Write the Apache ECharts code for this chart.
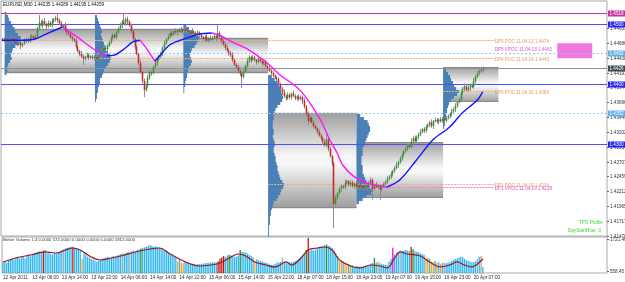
<!DOCTYPE html>
<html><head><meta charset="utf-8">
<script src="https://cdn.jsdelivr.net/npm/echarts@6/dist/echarts.min.js"></script>
<style>html,body{margin:0;padding:0;background:#fff}#c{width:625px;height:282px}</style>
</head><body><div id="c"></div>
<script>
// ---------------- DATA ----------------
const symbolTitle = 'EURUSD,M30 1.44235 1.44289 1.44195 1.44259';
const volumeTitle = 'Better Volume 1.4 0.0000 572.0000 0.0000 0.0000 0.0000 1812.0000';
const timeLabels = ['12 Apr 2011','13 Apr 06:00','13 Apr 14:00','13 Apr 22:00','14 Apr 06:00','14 Apr 14:00','14 Apr 22:00','15 Apr 06:00','15 Apr 14:00','15 Apr 22:00','18 Apr 07:00','18 Apr 15:00','18 Apr 23:00','19 Apr 07:00','19 Apr 15:00','19 Apr 23:00','20 Apr 07:00'];
const LABEL_STEP = 16;       // one time label every 16 M30 bars
const N_SLOTS = 329;         // bar slots across the window (incl. empty future)
const PRICE_BASE = 1.41;     // prices below are pips above 1.4100
const firstOpen = 373;
const closePips = [
374,376,372,370,373,376,371,368,366,370,
364,367,372,375,371,378,380,376,379,392,
402,398,405,400,396,402,398,404,407,410,
406,401,395,398,390,386,383,378,375,372,
362,355,350,346,342,345,348,344,346,343,
345,341,347,350,355,360,358,364,370,376,
382,378,386,392,398,404,400,408,404,398,
388,375,362,350,335,320,305,290,296,310,
320,318,328,335,340,346,350,360,368,375,
380,385,382,388,386,390,387,391,388,392,
389,387,384,388,385,383,386,382,378,375,
379,372,376,374,377,380,376,385,378,372,
366,360,356,352,348,340,332,328,322,318,
312,320,330,338,345,340,344,340,336,342,
338,334,337,330,326,322,318,314,310,308,
300,292,286,280,276,282,278,284,280,276,
279,275,278,272,262,250,238,244,236,230,
226,220,214,210,204,198,208,192,180,168,
100,110,118,125,130,128,135,138,132,136,
130,134,128,132,127,131,126,130,128,135,
140,125,132,128,130,124,129,133,137,142,
145,150,155,160,165,170,176,182,188,192,
198,195,204,210,205,212,216,220,225,222,
228,232,236,230,238,240,237,241,238,242,
239,243,246,250,254,258,264,270,274,285,
292,296,290,294,298,295,305,312,318,322,
323.5,325.9];
const wickUp = [
3,2,4,2,3,5,2,3,2,4, 3,2,4,3,2,5,3,2,4,3, 13,4,3,5,2,4,3,5,3,4, 8,3,4,2,5,3,2,4,3,2,
4,3,2,5,3,2,4,3,2,3, 3,4,2,3,5,2,4,3,2,4, 3,2,5,3,4,3,14,3,4,2, 3,4,2,3,2,5,3,4,3,5,
4,3,2,5,3,2,4,3,5,2, 3,4,2,3,5,2,3,4,2,3, 4,2,3,5,2,3,4,2,3,2, 3,4,2,5,3,4,2,13,3,4,
2,3,4,2,3,5,2,3,4,2, 3,4,2,5,3,2,4,3,2,4, 3,2,4,3,2,5,3,4,2,3, 4,2,3,5,2,4,3,2,5,3,
2,4,3,2,5,3,4,2,3,4, 3,2,4,3,2,5,8,3,4,2, 3,5,2,4,3,2,5,3,2,4, 3,2,4,3,5,2,3,4,2,3,
4,3,2,5,3,2,4,3,2,5, 3,4,2,3,5,2,4,3,2,4, 3,2,5,3,4,2,3,5,2,3, 4,2,3,5,2,4,3,2,4,3,
2,4,3,2,5,3,4,2,3,4, 3,5,2,4,3,2,5,3,4,3, 3,3];
const wickDn = [
2,4,3,2,5,3,4,2,3,2, 6,3,2,4,3,2,5,3,2,4, 3,2,5,3,4,2,3,4,2,3, 4,3,2,4,3,5,2,3,4,3,
3,2,4,3,10,3,2,4,3,2, 4,3,2,3,4,2,3,5,2,3, 2,3,4,2,3,5,2,3,4,3, 4,3,5,2,4,3,4,12,3,2,
3,4,2,3,5,2,3,4,2,3, 2,3,4,2,3,5,3,2,4,3, 3,4,2,3,2,4,3,5,2,3, 4,2,3,4,2,3,5,2,3,4,
3,4,2,5,3,4,2,3,5,4, 19,3,2,4,3,5,2,3,4,2, 3,4,2,3,5,2,4,3,2,4, 3,2,5,3,4,2,3,4,2,3,
4,3,2,5,3,4,6,3,2,4, 3,4,2,3,5,2,3,4,3,5, 40,4,3,2,5,3,4,2,3,4, 3,5,2,4,3,2,4,3,5,2,
3,18,3,2,4,17,3,2,4,3, 2,3,4,3,2,5,3,4,2,3, 4,3,2,5,3,2,4,3,2,4, 3,2,4,3,5,2,3,4,2,3,
4,3,2,3,4,2,5,3,2,4, 3,4,2,3,5,2,3,4,2,3, 3,4];
// moving average (pips above 1.41), read at [bar, value]
const maPoints = [[0,373],[10,373],[18,375],[23,382],[29,390],[33,395],[41,378],[48,362],[53,352],[57,347],[61,348],[67,360],[71,370],[75,373],[79,357],[83,338],[86,348],[91,365],[97,373],[102,378],[107,383],[114,385],[119,380],[125,370],[134,357],[144,335],[151,315],[160,295],[165,278],[173,240],[178,207],[182,185],[185,165],[191,146],[198,135],[209,128],[216,140],[225,173],[234,207],[243,228],[250,252],[258,273],[261,287]];
// Better Volume
const volume = [
880,920,860,950,990,1020,960,1050,1080,1000, 1060,1100,1020,1120,1180,1090,1150,1200,1230,1260,
1280,1250,1300,1320,1200,1260,1180,1150,1220,1190, 1250,1290,1320,1360,1380,1400,1420,1440,1420,1400,
1380,1350,1300,1000,1200,1150,1080,1050,1000,980, 940,900,920,960,1000,1020,1050,1080,1040,1060,
1100,1080,1120,1150,1180,1200,1160,1220,1250,1240, 1280,1300,1260,1320,1340,1380,1400,1420,1450,1480,
1500,1470,1440,1460,1420,1400,1380,1340,1300,1260, 1220,1180,1150,1100,1060,900,980,860,850,900,
880,860,840,820,800,790,810,800,820,830, 840,850,860,870,880,870,880,900,1000,1050,
1100,1060,1120,1150,1130,1100,1060,1080,1120,1320, 1260,1250,1230,1200,1150,1100,1050,920,980,950,
920,900,880,860,840,800,780,790,820,860, 880,900,1040,900,880,860,870,880,900,920,
950,1000,1050,1120,1200,1320,1757,1300,1320,1300, 1340,1380,1420,1450,1480,1500,1520,1480,1450,1400,
1300,1200,1100,900,950,900,820,760,800,740, 780,700,740,730,720,710,730,750,770,790,
820,850,1030,870,900,840,820,800,790,780, 900,1000,1400,1150,1200,1250,1300,1280,1300,1320,
1300,1290,1430,1350,1280,1260,1240,1200,1180,1150, 960,1050,1000,900,880,920,860,880,820,860,
850,840,860,880,920,960,1000,1020,1050,1080, 1060,1000,960,920,900,880,890,920,1000,1080,
1100,700];
const volumeKind = {22:'climax',33:'churn',38:'climax',43:'low',65:'churn',69:'churn',75:'churnHi',95:'low',97:'low',98:'low',117:'climax',118:'climax',119:'climax',120:'climax',123:'churnHi',129:'churnHi',137:'low',152:'churn',165:'churnHi',166:'climax',176:'churnHi',183:'low',184:'low',186:'low',187:'low',189:'low',202:'churnHi',204:'churn',212:'climaxChurn',216:'churn',222:'climax',223:'churnHi',230:'low',231:'low',233:'low',234:'low',236:'low',238:'low',240:'churn',258:'churn',260:'churn'};
const volumeAvg = [[0,887],[7,1032],[15,1141],[23,1250],[29,1213],[34,1322],[38,1395],[42,1322],[48,1068],[53,959],[59,1032],[64,1104],[72,1250],[80,1358],[85,1395],[91,1177],[97,959],[102,814],[107,741],[113,777],[118,850],[124,1068],[128,1177],[132,1104],[137,887],[143,777],[148,705],[154,887],[157,777],[162,1032],[166,1322],[171,1395],[175,1431],[179,1322],[183,959],[189,741],[194,669],[200,777],[205,741],[209,669],[213,1032],[216,1250],[220,1177],[227,1104],[232,887],[238,705],[243,777],[247,887],[251,777],[255,705],[258,814],[261,995]];
const volumeTicks = [1721.46, 558.45];
// daily TPO profiles: first bar of day, top level (pips), TPO counts per 5-pip level
const profileStart = [2, 51, 99, 145, 193, 240];
const profileTop = [420, 415, 400, 315, 250, 325];
const profileCounts = [
 [2,4,5,7,9,11,12,15,18,17,16,12,9,8,7,8,6,4,3,3,2],
 [2,3,4,5,6,7,6,7,8,9,10,11,13,15,16,15,13,11,9,8,7,5,5,4,3,3,2,2,1],
 [3,6,10,14,17,16,14,12,9,8,7,8,9,8,6,5,4,4,3,2,2,1,1],
 [4,7,10,12,13,14,15,16,15,13,10,8,7,6,6,5,5,5,6,6,5,6,7,7,6,6,7,8,8,9,10,10,11,12,13,15,17,16,14,13,11,9,6,5,4,3,3,2,2,2,1,1,1,1],
 [3,6,9,10,11,11,10,9,8,7,6,5,5,5,4,4,4,5,5,5,6,7,8,9,11,13,12,8,5,2],
 [3,5,7,8,10,11,13,16,14,11,8,6,5,4,4,3,3,2,2,1]];
// value areas: [first bar, end bar, top pips, bottom pips]
const valueAreas = [[2,51,392,318],[51,99,392,318],[99,145,377,318],[145,193,252,93],[193,240,203,110],[240,270,328,270]];
// horizontal levels across the window
const fullLevels = [1.45183, 1.4500, 1.4452, 1.44259, 1.4400, 1.4352, 1.4300];
const fullLevelKind = ['high','round','band','bid','round','band','round'];
const fullLevelTag = ['1.4518','1.4500','1.4452','1.4426','1.4400','1.4352','1.4300'];
// POC / VPOC notes
const noteText = ['DP5 POC 11.04.13 1.4474','DP5 VPOC 11.04.13 1.4460','DP4 POC 11.04.14 1.4443','DP0 POC 11.04.20 1.4389','DP1 POC 11.04.19 1.4234','DP1 VPOC 11.04.19 1.4228'];
const notePrice = [1.4474, 1.4460, 1.4443, 1.4389, 1.4234, 1.4228];
const noteFrom = [2, -1, 51, 240, 145, 193];
const noteKind = ['poc','vpoc','poc','poc','poc','vpoc'];
const noteEnd = 268;
const vpocZone = {from: 302, to: 321, top: 1.4468, bottom: 1.4443};
const priceTicks = [1.44933,1.44686,1.44438,1.44191,1.43944,1.43696,1.43449,1.43202,1.42954,1.42707,1.42459,1.42212,1.41965,1.41717,1.41470];

// ---------------- STYLE ----------------
const FONT = 'Liberation Sans';
const FS = 4.6;
const LEVEL_STYLE = {
  high: {color:'#d4309c', dash:null, tag:'#c4339a'},
  round:{color:'#4f4ff5', dash:null, tag:'#2424ee'},
  band: {color:'#98c8ee', dash:[2,2], tag:'#62b0e6'},
  bid:  {color:'#8d9498', dash:null, tag:'#3d4a52'},
  poc:  {color:'#f2b07c', dash:[2,1]},
  vpoc: {color:'#f27ae2', dash:[2,1]}
};
const VOL_COLOR = {normal:'#2db7f0', low:'#f7a52b', churn:'#a9a9a9', climax:'#cc1111', churnHi:'#2b8a2b', climaxChurn:'#ff00ff'};
const P = q => PRICE_BASE + q / 10000;

// ---------------- BUILD ----------------
const cats = Array.from({length: N_SLOTS}, (_, i) => String(i));
const candles = closePips.map((c, i) => {
  const o = i === 0 ? firstOpen : closePips[i - 1];
  const h = Math.max(o, c) + wickUp[i], l = Math.min(o, c) - wickDn[i];
  return [i, P(o), P(c), P(l), P(h)];
});
const lastClose = P(closePips[closePips.length - 1]);
fullLevels[3] = +lastClose.toFixed(5);

const maSegs = [];
for (let k = 1; k < maPoints.length; k++) {
  const up = maPoints[k][1] >= maPoints[k - 1][1];
  let cur = maSegs[maSegs.length - 1];
  if (!cur || cur.up !== up) { cur = {up, pts: [maPoints[k - 1]]}; maSegs.push(cur); }
  cur.pts.push(maPoints[k]);
}

const profileData = [];
profileCounts.forEach((arr, d) => {
  const mx = Math.max(...arr);
  arr.forEach((c, k) => profileData.push([profileStart[d], P(profileTop[d] - 5 * k), P(profileTop[d] - 5 * (k + 1)), c / mx]));
});

const kinds = Object.keys(LEVEL_STYLE);
const levelData = fullLevels.map((p, k) => [-1, -1, p, kinds.indexOf(fullLevelKind[k]), k]);
const noteLineData = notePrice.map((p, k) => [noteFrom[k], noteEnd, p, kinds.indexOf(noteKind[k]), k]).filter(d => d[0] >= 0);

const chart = echarts.init(document.getElementById('c'), null, {renderer: 'canvas'});
const slotLeft = (api, idx) => api.coord([idx, 1.43])[0] - api.size([1, 0])[0] / 2;

const option = {
  animation: false,
  backgroundColor: '#ffffff',
  grid: [
    {left: 1, right: 18, top: 1, height: 235, show: true, borderColor: '#a3a8ab', borderWidth: 1, backgroundColor: '#ffffff'},
    {left: 1, right: 18, top: 237, height: 36, show: true, borderColor: '#a3a8ab', borderWidth: 1, backgroundColor: '#ffffff'}
  ],
  xAxis: [
    {type: 'category', gridIndex: 0, data: cats, boundaryGap: true, show: false},
    {type: 'category', gridIndex: 1, data: cats, boundaryGap: true,
     axisLine: {show: false}, axisTick: {show: false}, splitLine: {show: false},
     axisLabel: {show: true, interval: (idx) => idx % LABEL_STEP === 0, margin: 2, align: 'left',
       formatter: (v, idx) => (idx % LABEL_STEP === 0 && timeLabels[idx / LABEL_STEP]) || '',
       fontSize: FS, fontFamily: FONT, color: '#2a2a2a'}}
  ],
  yAxis: [
    {type: 'value', gridIndex: 0, min: 1.41467, max: 1.45383, position: 'right', show: false, scale: true},
    {type: 'value', gridIndex: 1, min: 486, max: 1794, position: 'right', show: false}
  ],
  graphic: [
    {type: 'text', left: 3, top: 2, z: 100, style: {text: symbolTitle, fontSize: FS, fontFamily: FONT, fill: '#111'}},
    {type: 'text', left: 3, top: 238, z: 100, style: {text: volumeTitle, fontSize: 4.3, fontFamily: FONT, fill: '#333'}},
    {type: 'text', left: 579, top: 220, z: 100, style: {text: 'TPO Profile', fontSize: FS, fontFamily: FONT, fill: '#3ad23a'}},
    {type: 'text', left: 568, top: 228, z: 100, style: {text: 'DayStartHour: 0', fontSize: FS, fontFamily: FONT, fill: '#3ad23a'}}
  ],
  series: [
    // value-area boxes
    {type: 'custom', xAxisIndex: 0, yAxisIndex: 0, z: 1, silent: true, data: valueAreas.map(v => [v[0], v[1], P(v[2]), P(v[3])]),
     renderItem: (params, api) => {
       const x1 = slotLeft(api, api.value(0)), x2 = slotLeft(api, api.value(1));
       const y1 = api.coord([0, api.value(2)])[1], y2 = api.coord([0, api.value(3)])[1];
       return {type: 'group', children: [
         {type: 'rect', shape: {x: x1, y: y1, width: x2 - x1, height: y2 - y1},
          style: {fill: {type: 'linear', x: 0, y: 0, x2: 0, y2: 1, colorStops: [
            {offset: 0, color: '#9e9e9e'}, {offset: 0.45, color: '#f6f6f6'}, {offset: 0.55, color: '#f6f6f6'}, {offset: 1, color: '#9c9c9c'}]}}},
         {type: 'line', shape: {x1: x1, y1: Math.round(y1) + 0.5, x2: x2, y2: Math.round(y1) + 0.5}, style: {stroke: '#8a8a8a', lineWidth: 1}},
         {type: 'line', shape: {x1: x1, y1: Math.round(y2) - 0.5, x2: x2, y2: Math.round(y2) - 0.5}, style: {stroke: '#8a8a8a', lineWidth: 1}}
       ]};
     }},
    // VPOC zone
    {type: 'custom', xAxisIndex: 0, yAxisIndex: 0, z: 1, silent: true, data: [[vpocZone.from, vpocZone.to, vpocZone.top, vpocZone.bottom]],
     renderItem: (params, api) => {
       const x1 = slotLeft(api, api.value(0)), x2 = slotLeft(api, api.value(1));
       const y1 = api.coord([0, api.value(2)])[1], y2 = api.coord([0, api.value(3)])[1];
       return {type: 'rect', shape: {x: x1, y: y1, width: x2 - x1, height: y2 - y1}, style: {fill: '#f078e0'}};
     }},
    // TPO profiles
    {type: 'custom', xAxisIndex: 0, yAxisIndex: 0, z: 2, silent: true, data: profileData,
     renderItem: (params, api) => {
       const x = slotLeft(api, api.value(0));
       const y1 = api.coord([0, api.value(1)])[1], y2 = api.coord([0, api.value(2)])[1];
       return {type: 'rect', shape: {x: x, y: y1, width: api.value(3) * 16, height: y2 - y1}, style: {fill: '#4a80b6'}};
     }},
    // full-width levels with right tags
    {type: 'custom', xAxisIndex: 0, yAxisIndex: 0, z: 3, silent: true, data: levelData,
     renderItem: (params, api) => {
       const cs = params.coordSys;
       const st = LEVEL_STYLE[kinds[api.value(3)]];
       const y = Math.round(api.coord([0, api.value(2)])[1]) + 0.5;
       return {type: 'group', children: [
         {type: 'line', shape: {x1: cs.x, y1: y, x2: cs.x + cs.width, y2: y}, style: {stroke: st.color, lineWidth: 1, lineDash: st.dash}},
         {type: 'text', x: cs.x + cs.width + 1, y: y, z2: 10, style: {text: fullLevelTag[api.value(4)], fontSize: FS, fontFamily: FONT, fill: '#ffffff',
           backgroundColor: st.tag, padding: [0.5, 1.5, 0.5, 1.5], align: 'left', verticalAlign: 'middle'}}
       ]};
     }},
    // POC lines
    {type: 'custom', xAxisIndex: 0, yAxisIndex: 0, z: 3, silent: true, data: noteLineData,
     renderItem: (params, api) => {
       const st = LEVEL_STYLE[kinds[api.value(3)]];
       const y = Math.round(api.coord([0, api.value(2)])[1]) + 0.5;
       return {type: 'line', shape: {x1: slotLeft(api, api.value(0)), y1: y, x2: slotLeft(api, api.value(1)), y2: y}, style: {stroke: st.color, lineWidth: 1, lineDash: st.dash}};
     }},
    // POC notes
    {type: 'custom', xAxisIndex: 0, yAxisIndex: 0, z: 6, silent: true, data: notePrice.map((p, k) => [noteEnd, p, k]),
     renderItem: (params, api) => {
       const k = api.value(2);
       const y = api.coord([0, api.value(1)])[1] + 2;
       return {type: 'text', x: slotLeft(api, api.value(0)), y: y, style: {text: noteText[k], fontSize: FS, fontFamily: FONT,
         fill: noteKind[k] === 'poc' ? '#e89a5a' : '#e64bd6', align: 'left', verticalAlign: 'middle'}};
     }},
    // candles
    {type: 'custom', xAxisIndex: 0, yAxisIndex: 0, z: 4, silent: true, data: candles, encode: {x: 0, y: [1, 2, 3, 4]},
     renderItem: (params, api) => {
       const i = api.value(0), o = api.value(1), c = api.value(2);
       const po = api.coord([i, o]), pc = api.coord([i, c]);
       const pl = api.coord([i, api.value(3)]), ph = api.coord([i, api.value(4)]);
       const x = Math.round(po[0]) + 0.5;
       const top = Math.min(po[1], pc[1]), bh = Math.max(1, Math.abs(po[1] - pc[1]));
       return {type: 'group', children: [
         {type: 'line', shape: {x1: x, y1: ph[1], x2: x, y2: pl[1]}, style: {stroke: '#8c8c8c', lineWidth: 1}},
         {type: 'rect', shape: {x: x - 0.8, y: top, width: 1.6, height: bh}, style: {fill: c >= o ? '#2a9c2a' : '#c42a2a'}}
       ]};
     }},
    // moving average coloured by slope
    ...maSegs.map(s => ({type: 'line', xAxisIndex: 0, yAxisIndex: 0, z: 5, silent: true, showSymbol: false, smooth: 0.3,
      data: s.pts.map(p => [p[0], P(p[1])]), lineStyle: {color: s.up ? '#1414ff' : '#ff14ff', width: 1.4}})),
    // price axis labels
    {type: 'custom', xAxisIndex: 0, yAxisIndex: 0, z: 2, silent: true, data: priceTicks.map(v => [0, v]),
     renderItem: (params, api) => {
       const cs = params.coordSys;
       const y = Math.round(api.coord([0, api.value(1)])[1]) + 0.5;
       const x = cs.x + cs.width;
       return {type: 'group', children: [
         {type: 'line', shape: {x1: x, y1: y, x2: x + 2, y2: y}, style: {stroke: '#666', lineWidth: 1}},
         {type: 'text', x: x + 3, y: y, style: {text: api.value(1).toFixed(5), fontSize: FS, fontFamily: FONT, fill: '#333', align: 'left', verticalAlign: 'middle'}}
       ]};
     }},
    // volume bars
    {type: 'bar', xAxisIndex: 1, yAxisIndex: 1, barWidth: 1.3, silent: true,
     data: volume.map((v, i) => ({value: v, itemStyle: {color: VOL_COLOR[volumeKind[i] || 'normal']}}))},
    {type: 'line', xAxisIndex: 1, yAxisIndex: 1, showSymbol: false, smooth: 0.4, silent: true, z: 5,
     data: volumeAvg, lineStyle: {color: '#a31515', width: 1.2}},
    // volume axis labels
    {type: 'custom', xAxisIndex: 1, yAxisIndex: 1, z: 2, silent: true, data: volumeTicks.map(v => [0, v]),
     renderItem: (params, api) => {
       const cs = params.coordSys;
       const y = Math.round(api.coord([0, api.value(1)])[1]) + 0.5;
       const x = cs.x + cs.width;
       return {type: 'group', children: [
         {type: 'line', shape: {x1: x, y1: y, x2: x + 2, y2: y}, style: {stroke: '#666', lineWidth: 1}},
         {type: 'text', x: x + 3, y: y, style: {text: api.value(1).toFixed(2), fontSize: FS, fontFamily: FONT, fill: '#333', align: 'left', verticalAlign: 'middle'}}
       ]};
     }}
  ]
};
chart.setOption(option);
</script></body></html>
